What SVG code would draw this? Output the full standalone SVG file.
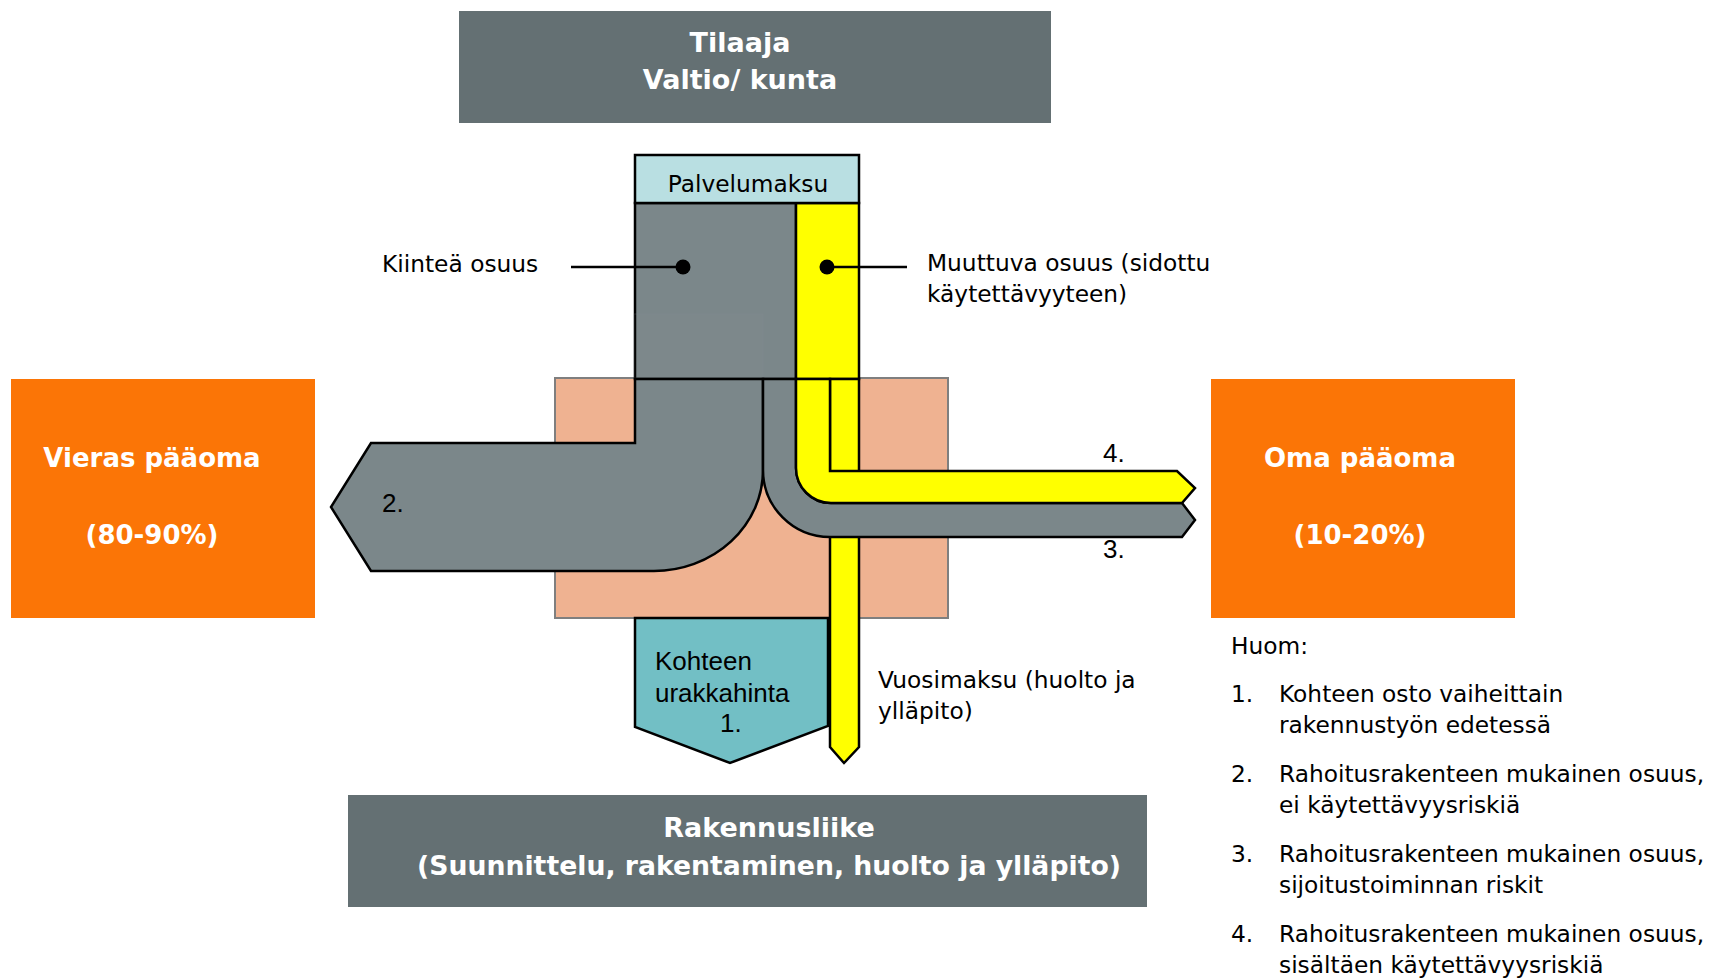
<svg xmlns="http://www.w3.org/2000/svg" width="1710" height="980" viewBox="0 0 1710 980">
<style>
  .title { font-family: "DejaVu Sans", "Liberation Sans", sans-serif; font-weight: bold; fill: #ffffff; font-size: 27px; text-anchor: middle; }
  .cap { font-family: "DejaVu Sans", "Liberation Sans", sans-serif; font-weight: bold; fill: #ffffff; font-size: 26px; text-anchor: middle; }
  .body { font-family: "DejaVu Sans", "Liberation Sans", sans-serif; fill: #000000; font-size: 23.3px; }
  .arial { font-family: "Liberation Sans", Arial, sans-serif; fill: #000000; font-size: 26px; }
  .ol { stroke: #000000; stroke-width: 2.5; stroke-linejoin: miter; }
  .gray { fill: #7b878a; }
  .yellow { fill: #ffff00; }
  .darkbox { fill: #647073; }
  .orange { fill: #fb7506; }
  .lead { stroke: #000000; stroke-width: 2.5; fill: none; }
</style>
<rect width="1710" height="980" fill="#ffffff"/>

<g id="tilaaja">
  <rect class="darkbox" x="459" y="11" width="592" height="112"/>
  <text class="title" x="740" y="52">Tilaaja</text>
  <text class="title" x="740" y="89">Valtio/ kunta</text>
</g>

<g id="rakennusliike">
  <rect class="darkbox" x="348" y="795" width="799" height="112"/>
  <text class="title" x="769" y="837">Rakennusliike</text>
  <text class="title" x="769" y="875" style="font-size:26.7px">(Suunnittelu, rakentaminen, huolto ja ylläpito)</text>
</g>

<g id="vieras-paaoma">
  <rect class="orange" x="11" y="379" width="304" height="239"/>
  <text class="cap" x="152" y="467">Vieras pääoma</text>
  <text class="cap" x="152" y="544">(80-90%)</text>
</g>

<g id="oma-paaoma">
  <rect class="orange" x="1211" y="379" width="304" height="239"/>
  <text class="cap" x="1360" y="467">Oma pääoma</text>
  <text class="cap" x="1360" y="544">(10-20%)</text>
</g>

<g id="kohde">
  <rect x="555" y="378" width="393" height="240" fill="#efb291" stroke="#7f7f7f" stroke-width="2"/>
</g>

<g id="palvelumaksu">
  <rect class="gray ol" x="635" y="203" width="161" height="176"/>
  <rect class="yellow ol" x="796" y="203" width="63" height="176"/>
  <rect x="634" y="314" width="129" height="64" fill="#ffffff" fill-opacity="0.015" stroke="#84909293" stroke-width="1" stroke-opacity="0.4"/>
  <rect class="ol" x="635" y="155" width="224" height="48" fill="#b9dfe2"/>
  <text class="body" x="748" y="192" text-anchor="middle">Palvelumaksu</text>
</g>

<g id="vieras-osuus">
  <path class="gray ol" d="M635,379 H763 V470 A109,101 0 0 1 654,571 H371 L331,507 L371,443 H635 Z"/>
  <text class="arial" x="382" y="512">2.</text>
</g>

<g id="urakkahinta">
  <path class="ol" fill="#72bfc5" d="M635,618 H828 V726 L730,763 L635,727 Z"/>
  <text class="arial" x="655" y="670">Kohteen</text>
  <text class="arial" x="655" y="702">urakkahinta</text>
  <text class="arial" x="720" y="732">1.</text>
</g>

<g id="vuosimaksu">
  <path class="yellow ol" d="M830,379 H859 V747 L844,763 L830,747 Z"/>
  <text class="body" x="878" y="688">Vuosimaksu (huolto ja</text>
  <text class="body" x="878" y="719">ylläpito)</text>
</g>

<g id="oma-osuus-3">
  <path class="gray ol" d="M763,379 H796 V468 A35,35 0 0 0 831,503 H1182 L1195,520 L1182,537 H830 A67,67 0 0 1 763,470 Z"/>
  <text class="arial" x="1103" y="558">3.</text>
</g>

<g id="oma-osuus-4">
  <path class="yellow ol" d="M796,379 H830 V471 H1177 L1195,488 L1182,503 H831 A35,35 0 0 1 796,468 Z"/>
  <text class="arial" x="1103" y="462">4.</text>
</g>

<g id="kiintea-label">
  <text class="body" x="382" y="272">Kiinteä osuus</text>
</g>

<g id="muuttuva-label">
  <text class="body" x="927" y="271">Muuttuva osuus (sidottu</text>
  <text class="body" x="927" y="302">käytettävyyteen)</text>
</g>

<g id="connectors">
  <line class="lead" x1="571" y1="267" x2="683" y2="267"/>
  <circle cx="683" cy="267" r="7.5" fill="#000000"/>
  <line class="lead" x1="827" y1="267" x2="907" y2="267"/>
  <circle cx="827" cy="267" r="7.5" fill="#000000"/>
</g>

<g id="huom">
  <text class="body" x="1231" y="654">Huom:</text>
  <text class="body" x="1231" y="702">1.</text>
  <text class="body" x="1279" y="702">Kohteen osto vaiheittain</text>
  <text class="body" x="1279" y="733">rakennustyön edetessä</text>
  <text class="body" x="1231" y="782">2.</text>
  <text class="body" x="1279" y="782">Rahoitusrakenteen mukainen osuus,</text>
  <text class="body" x="1279" y="813">ei käytettävyysriskiä</text>
  <text class="body" x="1231" y="862">3.</text>
  <text class="body" x="1279" y="862">Rahoitusrakenteen mukainen osuus,</text>
  <text class="body" x="1279" y="893">sijoitustoiminnan riskit</text>
  <text class="body" x="1231" y="942">4.</text>
  <text class="body" x="1279" y="942">Rahoitusrakenteen mukainen osuus,</text>
  <text class="body" x="1279" y="973">sisältäen käytettävyysriskiä</text>
</g>
</svg>
